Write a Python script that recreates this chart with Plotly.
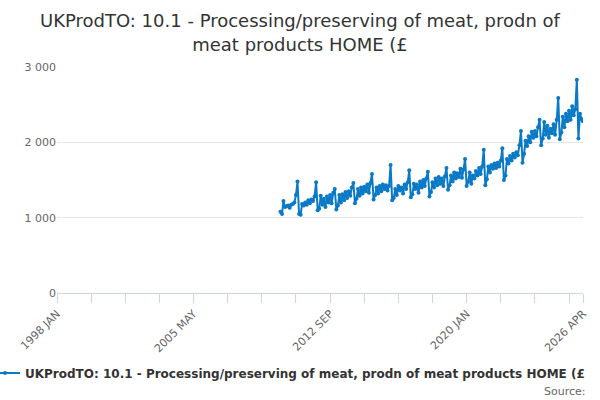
import pandas as pd
import plotly.graph_objects as go

title_text = "UKProdTO: 10.1 - Processing/preserving of meat, prodn of<br>meat products HOME (£"
series_name = "UKProdTO: 10.1 - Processing/preserving of meat, prodn of meat products HOME (£"

# Monthly values, 2010 JAN .. 2026 APR
values = [
    # 2010
    1080, 1050, 1220, 1140, 1150, 1160, 1130, 1170, 1180, 1200, 1300, 1480,
    # 2011
    1050, 1040, 1180, 1160, 1200, 1170, 1230, 1190, 1240, 1220, 1280, 1470,
    # 2012
    1100, 1120, 1290, 1170, 1250, 1140, 1280, 1200, 1300, 1190, 1330, 1380,
    # 2013
    1110, 1160, 1300, 1200, 1310, 1230, 1340, 1260, 1350, 1290, 1400, 1460,
    # 2014
    1190, 1250, 1380, 1290, 1400, 1320, 1410, 1350, 1440, 1330, 1460, 1580,
    # 2015
    1240, 1300, 1400, 1320, 1420, 1350, 1440, 1380, 1430, 1360, 1420, 1700,
    # 2016
    1230, 1260, 1380, 1300, 1420, 1360, 1400, 1320, 1440, 1380, 1470, 1630,
    # 2017
    1270, 1310, 1450, 1380, 1440, 1330, 1480, 1400, 1500, 1420, 1520, 1610,
    # 2018
    1280, 1340, 1470, 1400, 1520, 1430, 1540, 1450, 1520, 1420, 1550, 1660,
    # 2019
    1370, 1430, 1560, 1480, 1600, 1520, 1590, 1540, 1650, 1530, 1640, 1780,
    # 2020
    1420, 1480, 1600, 1450, 1560, 1520, 1620, 1560, 1660, 1580, 1680, 1900,
    # 2021
    1430, 1510, 1680, 1600, 1700, 1650, 1720, 1660, 1730, 1680, 1760, 1920,
    # 2022
    1500, 1560, 1780, 1720, 1820, 1760, 1850, 1800, 1870, 1830, 1960, 2150,
    # 2023
    1730, 1850, 2020, 1950, 2080, 2000, 2140, 2060, 2150, 2080, 2200, 2300,
    # 2024
    1960, 2050, 2270, 2100, 2220, 2060, 2180, 2120, 2240, 2100, 2300, 2590,
    # 2025
    2040, 2130, 2340, 2200, 2380, 2280, 2420, 2300, 2480, 2360, 2440, 2830,
    # 2026
    2050, 2380, 2310, 2280,
]
months = pd.date_range("2010-01-01", periods=len(values), freq="MS")

tick_vals = ["1998-01-01", "2005-05-01", "2012-09-01", "2020-01-01", "2026-04-01"]
tick_text = ["1998 JAN", "2005 MAY", "2012 SEP", "2020 JAN", "2026 APR"]
y_ticks = [0, 1000, 2000, 3000]

color = "#0a79c6"
font = "DejaVu Sans"

fig = go.Figure()
fig.add_trace(go.Scatter(
    x=months, y=values, name=series_name, mode="lines+markers",
    line=dict(color=color, width=2),
    marker=dict(color=color, size=4),
    showlegend=True,
))

fig.update_layout(
    width=600, height=400,
    paper_bgcolor="white", plot_bgcolor="white",
    margin=dict(l=57, r=17, t=67, b=107, autoexpand=False),
    separators=". ",
    font=dict(family=font, color="#666666", size=11),
    title=dict(text=title_text, x=0.5, xanchor="center", y=0.932, yanchor="top",
               font=dict(family=font, size=18, color="#333333")),
    xaxis=dict(
        type="date", range=["1998-01-01", "2026-04-01"],
        tickmode="array", tickvals=tick_vals, ticktext=tick_text,
        tickangle=-45, ticks="outside", ticklen=9, tickcolor="#ccd6eb",
        showline=True, linecolor="#ccd6eb", linewidth=1,
        showgrid=False, zeroline=False,
        tickfont=dict(size=11, color="#666666"),
        minor=dict(dtick="M22", tick0="1998-01-01", ticks="outside",
                   ticklen=9, tickcolor="#ccd6eb", showgrid=False),
    ),
    yaxis=dict(
        range=[0, 3000], tickmode="array", tickvals=y_ticks, tickformat=",",
        showgrid=True, gridcolor="#e6e6e6", gridwidth=1,
        zeroline=False, showline=False, ticks="",
        tickfont=dict(size=11, color="#666666"),
    ),
    legend=dict(
        orientation="h", xref="container", yref="container",
        x=0, xanchor="left", y=0.0675, yanchor="middle",
        indentation=-15,
        font=dict(family=font, size=12, color="#333333", weight="bold"),
        bgcolor="rgba(0,0,0,0)",
    ),
    annotations=[dict(
        text="Source:", xref="paper", yref="paper",
        x=1.0095, xanchor="right", y=-0.438, yanchor="middle",
        showarrow=False, font=dict(family=font, size=11, color="#666666"),
    )],
)

fig.write_html("out.html", config={"displayModeBar": False},
               post_script="document.body.style.margin='0';")
